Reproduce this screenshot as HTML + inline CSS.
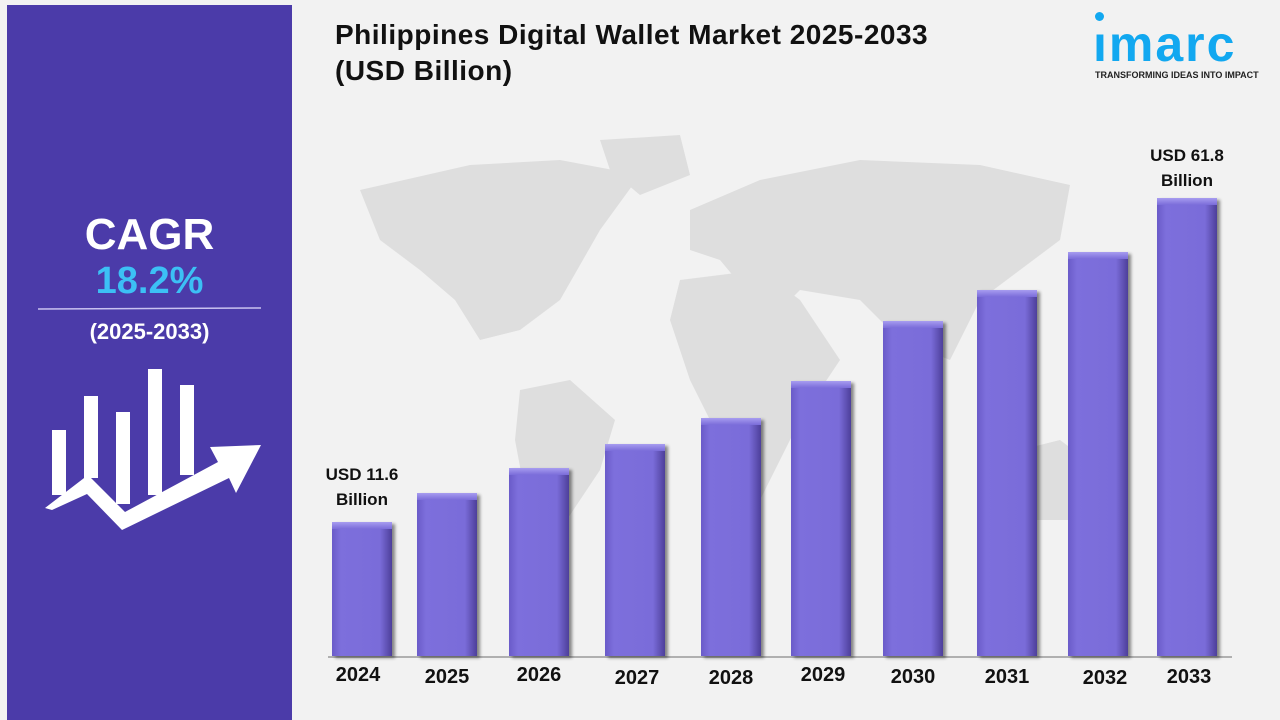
<!DOCTYPE html>
<html><head><meta charset="utf-8"><style>
body{margin:0;width:1280px;height:720px;background:#f2f2f2;position:relative;overflow:hidden;font-family:"Liberation Sans",Arial,sans-serif}
.panel{position:absolute;left:7px;top:5px;width:285px;height:715px;background:#4b3ba9}
.t{position:absolute;font-weight:bold}
.bar{position:absolute;width:60px;bottom:64px;background:linear-gradient(90deg,#6a5bc9 0%,#7d6fdc 15%,#7a6cd9 80%,#4d3f9a 100%);box-shadow:3px 2px 3px rgba(0,0,0,.45)}
.bar:before{content:"";position:absolute;left:0;right:0;top:0;height:7px;background:linear-gradient(#a79cf0,#7a6cd9)}
.yr{position:absolute;top:664px;font-size:20px;font-weight:bold;color:#111;width:80px;text-align:center}
.lbl{position:absolute;font-size:17px;font-weight:bold;color:#111;text-align:center;line-height:25px}
</style></head><body>
<svg style="position:absolute;left:0;top:0" width="1280" height="720">
<g fill="#dedede">
<path d="M360 190 L470 165 L560 160 L640 175 L600 230 L560 300 L520 330 L480 340 L455 300 L420 270 L380 240 Z"/>
<path d="M600 140 L680 135 L690 175 L640 195 L610 170 Z"/>
<path d="M520 390 L570 380 L615 420 L600 470 L560 530 L545 560 L530 520 L515 440 Z"/>
<path d="M690 210 L760 180 L860 160 L980 165 L1070 185 L1060 240 L1020 270 L980 300 L950 360 L900 340 L860 300 L800 290 L770 320 L720 260 L690 250 Z"/>
<path d="M680 280 L760 270 L800 300 L840 360 L800 420 L760 500 L730 520 L720 440 L690 380 L670 320 Z"/>
<path d="M980 460 L1060 440 L1100 470 L1090 520 L1020 520 L985 500 Z"/>
</g>
<line x1="328" y1="657" x2="1232" y2="657" stroke="#9a9a9a" stroke-width="1.5"/>
<g fill="#fff">
<rect x="52" y="430" width="14" height="65"/>
<rect x="84" y="396" width="14" height="82"/>
<rect x="116" y="412" width="14" height="92"/>
<rect x="148" y="369" width="14" height="126"/>
<rect x="180" y="385" width="14" height="90"/>
<polygon points="45,508 88,475 125,512 218,462 210,447 261,445 236,493 229,478 122,530 87,494 52,510"/>
</g>
<line x1="38" y1="309" x2="261" y2="308" stroke="#c9c2f0" stroke-width="1.5"/>
</svg>
<div class="panel" style="z-index:-1"></div>
<div class="t" style="left:7px;width:285px;top:210px;text-align:center;font-size:44px;color:#fff">CAGR</div>
<div class="t" style="left:7px;width:285px;top:260px;text-align:center;font-size:38px;color:#3cc0f5">18.2%</div>
<div class="t" style="left:7px;width:285px;top:319px;text-align:center;font-size:22px;color:#fff">(2025-2033)</div>
<div class="t" style="left:335px;top:17px;font-size:28px;letter-spacing:0.5px;color:#111;line-height:36px">Philippines Digital Wallet Market 2025-2033<br>(USD Billion)</div>
<div style="position:absolute;left:1095px;top:12px;width:9px;height:9px;border-radius:50%;background:#12a8f0"></div>
<div class="t" style="left:1093px;top:14px;font-size:50px;color:#12a8f0;letter-spacing:2px;line-height:60px">ımarc</div>
<div class="t" style="left:1095px;top:70px;font-size:9px;color:#222">TRANSFORMING IDEAS INTO IMPACT</div>
<div class="bar" style="left:332px;top:522px"></div>
<div class="bar" style="left:417px;top:493px"></div>
<div class="bar" style="left:509px;top:468px"></div>
<div class="bar" style="left:605px;top:444px"></div>
<div class="bar" style="left:701px;top:418px"></div>
<div class="bar" style="left:791px;top:381px"></div>
<div class="bar" style="left:883px;top:321px"></div>
<div class="bar" style="left:977px;top:290px"></div>
<div class="bar" style="left:1068px;top:252px"></div>
<div class="bar" style="left:1157px;top:198px"></div>
<div class="yr" style="left:318px">2024</div>
<div class="yr" style="left:407px;top:666px">2025</div>
<div class="yr" style="left:499px">2026</div>
<div class="yr" style="left:597px;top:667px">2027</div>
<div class="yr" style="left:691px;top:667px">2028</div>
<div class="yr" style="left:783px">2029</div>
<div class="yr" style="left:873px;top:666px">2030</div>
<div class="yr" style="left:967px;top:666px">2031</div>
<div class="yr" style="left:1065px;top:667px">2032</div>
<div class="yr" style="left:1149px;top:666px">2033</div>
<div class="lbl" style="left:302px;width:120px;top:462px">USD 11.6<br>Billion</div>
<div class="lbl" style="left:1127px;width:120px;top:143px">USD 61.8<br>Billion</div>
</body></html>
